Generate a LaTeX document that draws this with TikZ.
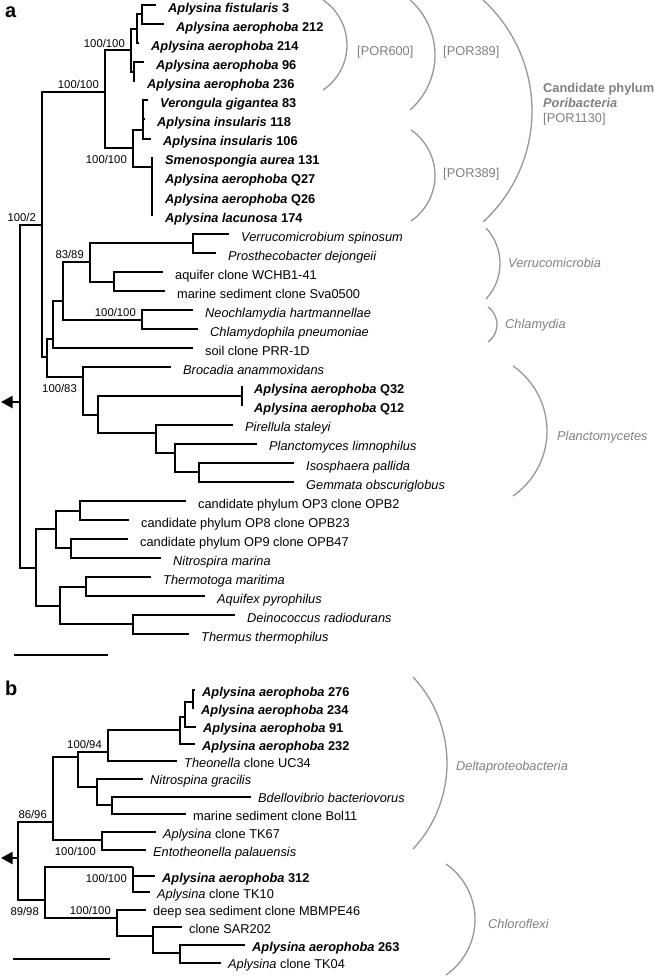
\documentclass[tikz,border=0pt]{standalone}
\usepackage{fontspec}
\setmainfont{Liberation Sans}
\usetikzlibrary{
    arrows.meta,  % For the root arrow tips
    positioning   % For label placement
}

\definecolor{cladegray}{RGB}{150,150,150}
\definecolor{cladetext}{RGB}{128,128,128}

\newcommand{\leaffont}{\fontsize{12.8}{15}\selectfont}
\newcommand{\bootfont}{\fontsize{11.3}{13}\selectfont}
\newcommand{\sponge}[2]{\textbf{\textit{#1} #2}}

% Clade bracket as a circular arc: top x, top y, bottom y, peak x
\newcommand{\cladearc}[4]{%
    \pgfmathsetmacro{\arcH}{(#3-#2)/2}%
    \pgfmathsetmacro{\arcS}{#4-#1}%
    \pgfmathsetmacro{\arcR}{(\arcH*\arcH+\arcS*\arcS)/(2*\arcS)}%
    \pgfmathsetmacro{\arcT}{asin(\arcH/\arcR)}%
    \draw[bracket] (#1,#2) arc[start angle=-\arcT, end angle=\arcT, radius=\arcR];%
}

\begin{document}
\begin{tikzpicture}[
    x=1pt, y=-1pt,
    branch/.style={line width=2pt},
    rootarrow/.style={line width=2pt, -{Triangle[length=11.5pt,width=12pt]}},
    bracket/.style={draw=cladegray, line width=1.3pt},
    leaf/.style={anchor=base west, inner sep=0pt, font=\leaffont},
    leafa/.style={leaf, xshift=12pt, yshift=-7.3pt},
    leafb/.style={leaf, xshift=7pt, yshift=-6pt},
    boot/.style={inner sep=0pt, font=\bootfont},
    bootup/.style={boot, anchor=south east, xshift=-6pt, yshift=3pt},
    bootdown/.style={boot, anchor=north east, xshift=-6pt, yshift=-7pt},
    cladelab/.style={anchor=west, inner sep=0pt, text=cladetext, font=\leaffont},
    panel/.style={anchor=base west, inner sep=0pt, font=\fontsize{20}{22}\selectfont\bfseries}
]
    \useasboundingbox (0,0) rectangle (654,979);

    % ---------------- panel a ----------------
    \node[panel] (pa) at (5,18) {a};

    % Leaf tips (rows 19.07 apart)
    \coordinate (t1) at (156,5);
    \coordinate (t2) at (164,24.1);
    \coordinate (t3) at (139,43.1);
    \coordinate (t4) at (144,62.2);
    \coordinate (t5) at (135,81.3);
    \coordinate (t6) at (148,100.4);
    \coordinate (t7) at (145,119.4);
    \coordinate (t8) at (151,138.5);
    \coordinate (t9) at (153,157.6);
    \coordinate (t10) at (153,176.6);
    \coordinate (t11) at (153,195.7);
    \coordinate (t12) at (153,214.8);
    \coordinate (t13) at (229,233.8);
    \coordinate (t14) at (216,252.9);
    \coordinate (t15) at (163,272);
    \coordinate (t16) at (165,291.1);
    \coordinate (t17) at (193,310.1);
    \coordinate (t18) at (198,329.2);
    \coordinate (t19) at (193,348.3);
    \coordinate (t20) at (171,367.3);
    \coordinate (t21) at (242,386.4);
    \coordinate (t22) at (242,405.5);
    \coordinate (t23) at (233,424.5);
    \coordinate (t24) at (257,443.6);
    \coordinate (t25) at (294,462.7);
    \coordinate (t26) at (294,481.8);
    \coordinate (t27) at (186,500.8);
    \coordinate (t28) at (129,519.9);
    \coordinate (t29) at (128,539);
    \coordinate (t30) at (161,558);
    \coordinate (t31) at (151,577.1);
    \coordinate (t32) at (205,596.2);
    \coordinate (t33) at (235,615.2);
    \coordinate (t34) at (189,634.3);

    % Inner nodes
    \coordinate (rootA) at (20,402);
    \coordinate (por) at (42,225);
    \coordinate (por389) at (105,92);
    \coordinate (por600) at (131,50.5);
    \coordinate (fis) at (137,28.8);
    \coordinate (fis2) at (142,14.5);
    \coordinate (aer) at (134,72);
    \coordinate (por389b) at (133,148);
    \coordinate (ver) at (143,130);
    \coordinate (sme) at (152,167);
    \coordinate (rest) at (47,357);
    \coordinate (vc) at (53,339);
    \coordinate (vch) at (63,301);
    \coordinate (verr) at (90,262);
    \coordinate (verr1) at (193,243.4);
    \coordinate (verr2) at (114,282);
    \coordinate (chl) at (142,320);
    \coordinate (pla) at (83,377);
    \coordinate (pla2) at (98,415);
    \coordinate (apq) at (242,396);
    \coordinate (pla3) at (156,433);
    \coordinate (pla4) at (175,453);
    \coordinate (pla5) at (199,472);
    \coordinate (out) at (36,568);
    \coordinate (out1) at (56,529);
    \coordinate (op) at (80,511);
    \coordinate (op9) at (71,548);
    \coordinate (out2) at (60,606);
    \coordinate (tha) at (86,587);
    \coordinate (dt) at (133,624);

    % Branches
    \foreach \p/\c in {rootA/por, rootA/out, por/por389, por/rest,
        por389/por600, por389/por389b, por600/fis, por600/aer,
        fis/fis2, fis/t3, fis2/t1, fis2/t2, aer/t4, aer/t5,
        por389b/ver, por389b/sme, ver/t6, ver/t7, ver/t8,
        sme/t9, sme/t10, sme/t11, sme/t12,
        rest/vc, rest/pla, vc/vch, vc/t19, vch/verr, vch/chl,
        verr/verr1, verr/verr2, verr1/t13, verr1/t14, verr2/t15, verr2/t16,
        chl/t17, chl/t18, pla/t20, pla/pla2, pla2/apq, pla2/pla3,
        apq/t21, apq/t22, pla3/t23, pla3/pla4, pla4/t24, pla4/pla5,
        pla5/t25, pla5/t26, out/out1, out/out2, out1/op, out1/op9,
        op/t27, op/t28, op9/t29, op9/t30, out2/tha, out2/dt,
        tha/t31, tha/t32, dt/t33, dt/t34}
        \draw[branch] (\p) |- (\c);

    % Root arrow and scale bar
    \coordinate (tipA) at (1,402);
    \draw[rootarrow] (rootA) -- (tipA);
    \coordinate (barA1) at (14,655);
    \coordinate (barA2) at (108,655);
    \draw[branch] (barA1) -- (barA2);

    % Leaf labels
    \node[leafa] (l1) at (t1) {\sponge{Aplysina fistularis}{3}};
    \node[leafa] (l2) at (t2) {\sponge{Aplysina aerophoba}{212}};
    \node[leafa] (l3) at (t3) {\sponge{Aplysina aerophoba}{214}};
    \node[leafa] (l4) at (t4) {\sponge{Aplysina aerophoba}{96}};
    \node[leafa] (l5) at (t5) {\sponge{Aplysina aerophoba}{236}};
    \node[leafa] (l6) at (t6) {\sponge{Verongula gigantea}{83}};
    \node[leafa] (l7) at (t7) {\sponge{Aplysina insularis}{118}};
    \node[leafa] (l8) at (t8) {\sponge{Aplysina insularis}{106}};
    \node[leafa] (l9) at (t9) {\sponge{Smenospongia aurea}{131}};
    \node[leafa] (l10) at (t10) {\sponge{Aplysina aerophoba}{Q27}};
    \node[leafa] (l11) at (t11) {\sponge{Aplysina aerophoba}{Q26}};
    \node[leafa] (l12) at (t12) {\sponge{Aplysina lacunosa}{174}};
    \node[leafa] (l13) at (t13) {\textit{Verrucomicrobium spinosum}};
    \node[leafa] (l14) at (t14) {\textit{Prosthecobacter dejongeii}};
    \node[leafa] (l15) at (t15) {aquifer clone WCHB1-41};
    \node[leafa] (l16) at (t16) {marine sediment clone Sva0500};
    \node[leafa] (l17) at (t17) {\textit{Neochlamydia hartmannellae}};
    \node[leafa] (l18) at (t18) {\textit{Chlamydophila pneumoniae}};
    \node[leafa] (l19) at (t19) {soil clone PRR-1D};
    \node[leafa] (l20) at (t20) {\textit{Brocadia anammoxidans}};
    \node[leafa] (l21) at (t21) {\sponge{Aplysina aerophoba}{Q32}};
    \node[leafa] (l22) at (t22) {\sponge{Aplysina aerophoba}{Q12}};
    \node[leafa] (l23) at (t23) {\textit{Pirellula staleyi}};
    \node[leafa] (l24) at (t24) {\textit{Planctomyces limnophilus}};
    \node[leafa] (l25) at (t25) {\textit{Isosphaera pallida}};
    \node[leafa] (l26) at (t26) {\textit{Gemmata obscuriglobus}};
    \node[leafa] (l27) at (t27) {candidate phylum OP3 clone OPB2};
    \node[leafa] (l28) at (t28) {candidate phylum OP8 clone OPB23};
    \node[leafa] (l29) at (t29) {candidate phylum OP9 clone OPB47};
    \node[leafa] (l30) at (t30) {\textit{Nitrospira marina}};
    \node[leafa] (l31) at (t31) {\textit{Thermotoga maritima}};
    \node[leafa] (l32) at (t32) {\textit{Aquifex pyrophilus}};
    \node[leafa] (l33) at (t33) {\textit{Deinococcus radiodurans}};
    \node[leafa] (l34) at (t34) {\textit{Thermus thermophilus}};

    % Bootstrap values
    \node[bootup] (bPor600) at (por600) {100/100};
    \node[bootup] (bPor389) at (por389) {100/100};
    \node[bootdown] (bPor389b) at (por389b) {100/100};
    \node[bootup] (bPor) at (por) {100/2};
    \node[bootup] (bVerr) at (verr) {83/89};
    \node[bootup] (bChl) at (chl) {100/100};
    \node[bootdown] (bPla) at (pla) {100/83};

    % Clade brackets
    \cladearc{323}{0}{90}{347}
    \cladearc{410}{0}{110}{435}
    \cladearc{411}{130}{221}{435}
    \cladearc{483}{0}{222}{532}
    \cladearc{486}{228}{299}{500}
    \cladearc{488}{307}{342}{497}
    \cladearc{513}{366}{496}{547}
    \node[cladelab] (cP600) at (357,52) {[POR600]};
    \node[cladelab] (cP389) at (443,52) {[POR389]};
    \node[cladelab] (cP389b) at (443,174) {[POR389]};
    \node[cladelab, align=left] (cPor) at (543,104)
        {\textbf{Candidate phylum}\\\textbf{\textit{Poribacteria}}\\{}[POR1130]};
    \node[cladelab] (cVerr) at (508,263) {\textit{Verrucomicrobia}};
    \node[cladelab] (cChl) at (505,325) {\textit{Chlamydia}};
    \node[cladelab] (cPla) at (557,437) {\textit{Planctomycetes}};

    % ---------------- panel b ----------------
    \node[panel] (pb) at (5,695) {b};

    % Leaf tips
    \coordinate (u1) at (195,690);
    \coordinate (u2) at (194,708);
    \coordinate (u3) at (196,726.5);
    \coordinate (u4) at (195,744);
    \coordinate (u5) at (177,761);
    \coordinate (u6) at (143,778.5);
    \coordinate (u7) at (251,796.5);
    \coordinate (u8) at (186,814);
    \coordinate (u9) at (156,832);
    \coordinate (u10) at (146,850);
    \coordinate (u11) at (155,876);
    \coordinate (u12) at (150,892);
    \coordinate (u13) at (146,909.5);
    \coordinate (u14) at (182,927);
    \coordinate (u15) at (245,945);
    \coordinate (u16) at (221,962.5);

    % Inner nodes
    \coordinate (rootB) at (18,858);
    \coordinate (delta) at (53,822);
    \coordinate (dA) at (78,757);
    \coordinate (dAp) at (108,752);
    \coordinate (ap1) at (180,730);
    \coordinate (ap2) at (185,717);
    \coordinate (ap3) at (193,702);
    \coordinate (dN) at (97,787);
    \coordinate (dB) at (112,805);
    \coordinate (dE) at (102,840);
    \coordinate (chlf) at (45,900);
    \coordinate (cA) at (133,867);
    \coordinate (cM) at (117,918);
    \coordinate (cS) at (153,936);
    \coordinate (cT) at (180,953);

    % Branches
    \foreach \p/\c in {rootB/delta, rootB/chlf, delta/dA, delta/dE,
        dA/dAp, dA/dN, dAp/ap1, dAp/u5, ap1/ap2, ap1/u4, ap2/ap3, ap2/u3,
        ap3/u1, ap3/u2, dN/u6, dN/dB, dB/u7, dB/u8, dE/u9, dE/u10,
        chlf/cA, chlf/cM, cA/u11, cA/u12, cM/u13, cM/cS,
        cS/u14, cS/cT, cT/u15, cT/u16}
        \draw[branch] (\p) |- (\c);

    % Root arrow and scale bar
    \coordinate (tipB) at (1,858);
    \draw[rootarrow] (rootB) -- (tipB);
    \coordinate (barB1) at (13,959);
    \coordinate (barB2) at (110,959);
    \draw[branch] (barB1) -- (barB2);

    % Leaf labels
    \node[leafb] (m1) at (u1) {\sponge{Aplysina aerophoba}{276}};
    \node[leafb] (m2) at (u2) {\sponge{Aplysina aerophoba}{234}};
    \node[leafb] (m3) at (u3) {\sponge{Aplysina aerophoba}{91}};
    \node[leafb] (m4) at (u4) {\sponge{Aplysina aerophoba}{232}};
    \node[leafb] (m5) at (u5) {\textit{Theonella} clone UC34};
    \node[leafb] (m6) at (u6) {\textit{Nitrospina gracilis}};
    \node[leafb] (m7) at (u7) {\textit{Bdellovibrio bacteriovorus}};
    \node[leafb] (m8) at (u8) {marine sediment clone Bol11};
    \node[leafb] (m9) at (u9) {\textit{Aplysina} clone TK67};
    \node[leafb] (m10) at (u10) {\textit{Entotheonella palauensis}};
    \node[leafb] (m11) at (u11) {\sponge{Aplysina aerophoba}{312}};
    \node[leafb] (m12) at (u12) {\textit{Aplysina} clone TK10};
    \node[leafb] (m13) at (u13) {deep sea sediment clone MBMPE46};
    \node[leafb] (m14) at (u14) {clone SAR202};
    \node[leafb] (m15) at (u15) {\sponge{Aplysina aerophoba}{263}};
    \node[leafb] (m16) at (u16) {\textit{Aplysina} clone TK04};

    % Bootstrap values
    \node[bootup] (bAp) at (dAp) {100/94};
    \node[bootup] (bDelta) at (delta) {86/96};
    \node[bootdown] (bE) at (dE) {100/100};
    \node[bootdown] (bA) at (cA) {100/100};
    \node[bootdown] (bChlf) at (chlf) {89/98};
    \node[bootup] (bM) at (cM) {100/100};

    % Clade brackets
    \cladearc{413}{677}{849}{447}
    \cladearc{446}{864}{975}{475}
    \node[cladelab] (cDelta) at (456,767) {\textit{Deltaproteobacteria}};
    \node[cladelab] (cChlf) at (488,924) {\textit{Chloroflexi}};
\end{tikzpicture}
\end{document}
